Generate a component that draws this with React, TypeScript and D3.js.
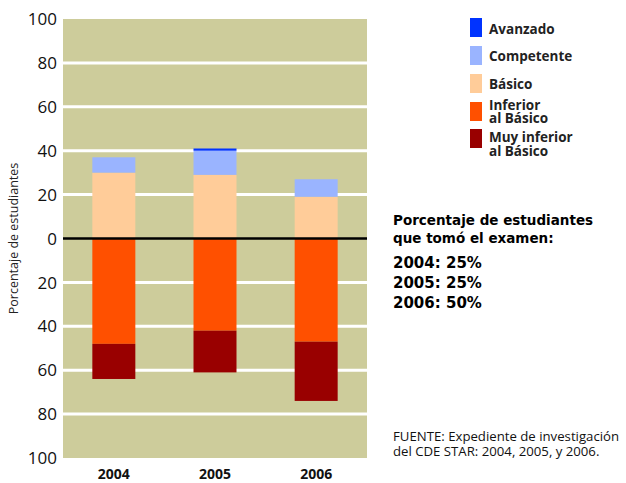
import * as d3 from "d3";

const years = ["2004", "2005", "2006"];
const avanzado = [0, 1, 0];
const competente = [7, 11, 8];
const basico = [30, 29, 19];
const inferior = [48, 42, 47];
const muyInferior = [16, 19, 27];
const yTicks = [-100, -80, -60, -40, -20, 0, 20, 40, 60, 80, 100];

const keys = ["basico", "competente", "avanzado", "inferior", "muyInferior"];
const colors: Record<string, string> = {
  avanzado: "#0033ff",
  competente: "#9ab4ff",
  basico: "#ffcc99",
  inferior: "#ff5000",
  muyInferior: "#990000",
};
const legendKeys = ["avanzado", "competente", "basico", "inferior", "muyInferior"];
const legendLabels = [["Avanzado"], ["Competente"], ["Básico"], ["Inferior", "al Básico"], ["Muy inferior", "al Básico"]];
const takenLines = ["Porcentaje de estudiantes", "que tomó el examen:"];
const takenYears = ["2004: 25%", "2005: 25%", "2006: 50%"];
const sourceLines = ["FUENTE: Expediente de investigación", "del CDE STAR: 2004, 2005, y 2006."];

const W = 626;
const H = 483;
const plot = { left: 63, right: 367, top: 19, bottom: 458 };
const font = "'Open Sans', 'DejaVu Sans', sans-serif";
const wideFont = "'DejaVu Sans', sans-serif";

// legend layout: square tops and text baselines
const legendTops = [18, 46, 74, 102, 129];
const legendBaselines = [[34], [61], [89], [110, 123], [142, 156]];

export default function App() {
  const rows = years.map((y, i) => ({
    year: y,
    basico: basico[i],
    competente: competente[i],
    avanzado: avanzado[i],
    inferior: -inferior[i],
    muyInferior: -muyInferior[i],
  }));
  const series = d3.stack<any>().keys(keys).offset(d3.stackOffsetDiverging)(rows);

  const x = d3.scaleBand().domain(years).range([plot.left, plot.right]).paddingInner(0.575).paddingOuter(0.29);
  const y = d3.scaleLinear().domain([-100, 100]).range([plot.bottom, plot.top]);

  return (
    <svg width={W} height={H} style={{ position: "absolute", left: 0, top: 0, background: "#fff" }} fontFamily={font}>
      <rect x={plot.left} y={plot.top} width={plot.right - plot.left} height={plot.bottom - plot.top} fill="#cdcc9b" />
      {/* grid */}
      {yTicks
        .filter((t) => Math.abs(t) !== 100 && t !== 0)
        .map((t) => (
          <line key={t} x1={plot.left} x2={plot.right} y1={y(t)} y2={y(t)} stroke="#fff" strokeWidth={3} />
        ))}
      {/* bars */}
      {series.map((s) => (
        <g key={s.key} fill={colors[s.key]}>
          {s.map((d, i) => (
            <rect
              key={i}
              x={x(years[i])}
              width={x.bandwidth()}
              y={y(Math.max(d[0], d[1]))}
              height={Math.abs(y(d[0]) - y(d[1]))}
            />
          ))}
        </g>
      ))}
      <line x1={plot.left} x2={plot.right} y1={y(0)} y2={y(0)} stroke="#000" strokeWidth={2.5} />
      {/* y axis labels */}
      {yTicks.map((t, i) => (
        <text key={i} x={57} y={y(t)} dy="0.36em" textAnchor="end" fontSize={17} fill="#111">
          {Math.abs(t)}
        </text>
      ))}
      <text transform={`translate(18,${y(0)}) rotate(-90)`} textAnchor="middle" fontSize={12.5} fill="#222">
        Porcentaje de estudiantes
      </text>
      {/* x labels */}
      {years.map((yr) => (
        <text key={yr} x={x(yr)! + x.bandwidth() / 2} y={479} textAnchor="middle" fontSize={14} fontWeight="bold" fill="#111">
          {yr}
        </text>
      ))}
      {/* legend */}
      {legendKeys.map((k, i) => (
        <g key={k}>
          <rect x={470} y={legendTops[i]} width={12} height={19} fill={colors[k]} />
          {legendLabels[i].map((l, j) => (
            <text key={j} x={489} y={legendBaselines[i][j]} fontSize={13.5} fontWeight="bold" fill="#222">
              {l}
            </text>
          ))}
        </g>
      ))}
      {/* participation */}
      {takenLines.map((l, i) => (
        <text key={l} x={393} y={225 + i * 18} fontFamily={wideFont} fontSize={13.5} fontWeight="bold" fill="#000">
          {l}
        </text>
      ))}
      {takenYears.map((l, i) => (
        <text key={l} x={393} y={268 + i * 20} fontFamily={wideFont} fontSize={15} fontWeight="bold" fill="#000">
          {l}
        </text>
      ))}
      {sourceLines.map((l, i) => (
        <text key={l} x={393} y={441 + i * 15} fontSize={13.2} fill="#111">
          {l}
        </text>
      ))}
    </svg>
  );
}
